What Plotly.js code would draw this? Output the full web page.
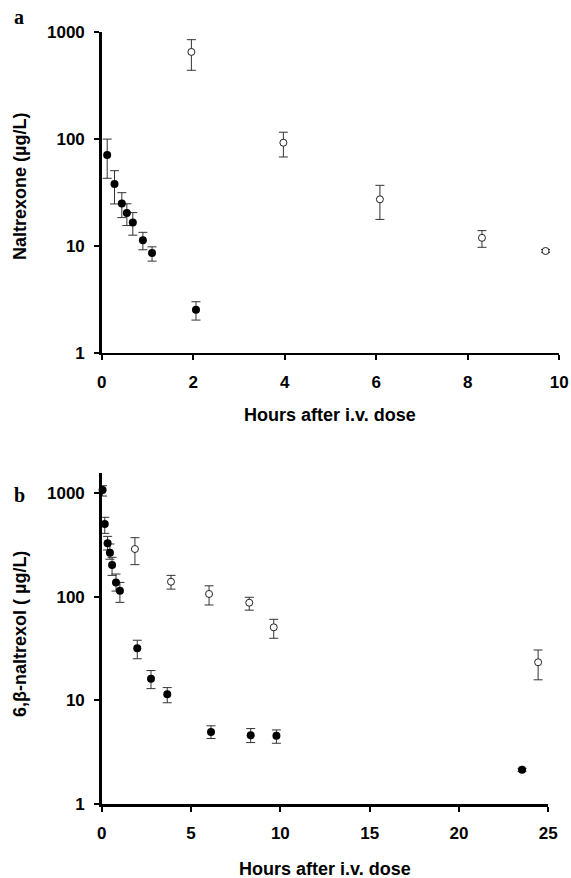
<!DOCTYPE html>
<html>
<head>
<meta charset="utf-8">
<script src="https://cdn.plot.ly/plotly-3.0.1.min.js"></script>
<style>html,body{margin:0;padding:0;background:#fff;}</style>
</head>
<body>
<div id="chart" style="width:571px;height:878px;"></div>
<script>
// Panel a: naltrexone, filled (i.v.) series
const aFilledTime = [0.12, 0.28, 0.44, 0.55, 0.68, 0.90, 1.10, 2.06];
const aFilledMean = [71, 38, 25, 20.3, 16.6, 11.3, 8.6, 2.53];
const aFilledHi   = [100, 50.6, 31.5, 24.8, 20.5, 13.4, 9.8, 3.0];
const aFilledLo   = [43, 24.7, 18.4, 15.5, 12.6, 9.2, 7.2, 2.02];
// Panel a: naltrexone, open series
const aOpenTime = [1.96, 3.97, 6.08, 8.31, 9.70];
const aOpenMean = [655, 92.5, 27.3, 11.9, 8.96];
const aOpenHi   = [853, 116, 36.9, 13.9, 9.25];
const aOpenLo   = [441, 68, 17.7, 9.7, 8.7];
// Panel b: 6,beta-naltrexol, filled series
const bFilledTime = [0.05, 0.17, 0.33, 0.46, 0.58, 0.80, 1.02, 1.99, 2.76, 3.67, 6.12, 8.34, 9.78, 23.53];
const bFilledMean = [1062, 500, 326, 265, 201, 137, 114, 31.8, 16.2, 11.5, 4.98, 4.63, 4.56, 2.15];
const bFilledHi   = [1168, 580, 380, 321, 239, 165, 137, 38, 19.4, 13.3, 5.7, 5.36, 5.2, 2.22];
const bFilledLo   = [929, 406, 281, 229, 160, 113, 88, 25.2, 13, 9.5, 4.3, 3.93, 3.87, 2.08];
// Panel b: 6,beta-naltrexol, open series
const bOpenTime = [1.86, 3.88, 6.01, 8.26, 9.63, 24.43];
const bOpenMean = [287, 139, 106, 87.3, 50.6, 23.3];
const bOpenHi   = [369, 160, 127, 98.5, 60.4, 30.6];
const bOpenLo   = [203, 118, 83, 74, 39.7, 15.8];

const xTicksA = [0, 2, 4, 6, 8, 10];
const xTicksB = [0, 5, 10, 15, 20, 25];
const yTicks = [1, 10, 100, 1000];
const yTickText = ['1', '10', '100', '1000'];

const FONT = 'Liberation Sans, Arial, sans-serif';

function errObj(mean, hi, lo) {
  return {
    type: 'data', symmetric: false,
    array: mean.map((m, i) => hi[i] - m),
    arrayminus: mean.map((m, i) => m - lo[i]),
    color: '#333', thickness: 1, width: 4.5
  };
}
function filled(x, y, hi, lo, xa, ya) {
  return {x: x, y: y, xaxis: xa, yaxis: ya, type: 'scatter', mode: 'markers', cliponaxis: false,
    marker: {symbol: 'circle', size: 8, color: '#000', line: {color: '#000', width: 0}},
    error_y: errObj(y, hi, lo)};
}
function open(x, y, hi, lo, xa, ya) {
  return {x: x, y: y, xaxis: xa, yaxis: ya, type: 'scatter', mode: 'markers', cliponaxis: false,
    marker: {symbol: 'circle', size: 7, color: '#fff', line: {color: '#222', width: 1}},
    error_y: errObj(y, hi, lo)};
}

const data = [
  filled(aFilledTime, aFilledMean, aFilledHi, aFilledLo, 'x', 'y'),
  open(aOpenTime, aOpenMean, aOpenHi, aOpenLo, 'x', 'y'),
  filled(bFilledTime, bFilledMean, bFilledHi, bFilledLo, 'x2', 'y2'),
  open(bOpenTime, bOpenMean, bOpenHi, bOpenLo, 'x2', 'y2')
];

const tickFont = {family: FONT, size: 17, color: '#000', weight: 700};
const axBase = {showline: true, linewidth: 2.5, linecolor: '#000', ticks: 'outside', ticklen: 5,
  tickwidth: 2, tickcolor: '#000', showgrid: false, zeroline: false, tickfont: tickFont, fixedrange: true};

const W = 571, H = 878;
const titleFont = {family: FONT, size: 18, weight: 700, color: '#000'};
const labelFont = {family: 'Liberation Serif, Times New Roman, serif', size: 20, weight: 700, color: '#000'};
function ann(text, px, py, font, angle) {
  return {text: text, xref: 'paper', yref: 'paper', x: px / W, y: 1 - py / H, showarrow: false,
    xanchor: 'center', yanchor: 'middle', textangle: angle || 0, font: font};
}
const layout = {
  width: W, height: H, margin: {l: 0, r: 0, t: 0, b: 0},
  paper_bgcolor: '#fff', plot_bgcolor: '#fff', showlegend: false,
  xaxis: Object.assign({}, axBase, {domain: [101.7 / W, 559.3 / W], range: [0, 10], anchor: 'y',
    tickvals: xTicksA, ticklabelstandoff: 7}),
  yaxis: Object.assign({}, axBase, {domain: [1 - 352.7 / H, 1 - 32.3 / H], type: 'log', range: [0, 3], anchor: 'x',
    tickvals: yTicks, ticktext: yTickText, ticklabelstandoff: 6}),
  xaxis2: Object.assign({}, axBase, {domain: [101.7 / W, 548.3 / W], range: [0, 25], anchor: 'y2',
    tickvals: xTicksB, ticklabelstandoff: 7}),
  yaxis2: Object.assign({}, axBase, {domain: [1 - 804.3 / H, 1 - 473 / H], type: 'log', range: [0, 3.19], anchor: 'x2',
    tickvals: yTicks, ticktext: yTickText, ticklabelstandoff: 6}),
  annotations: [
    ann('a', 19, 17, labelFont),
    ann('b', 19, 495, labelFont),
    ann('Hours after i.v. dose', 330, 415, titleFont),
    ann('Hours after i.v. dose', 325, 869, titleFont),
    ann('Naltrexone (µg/L)', 20, 187, titleFont, -90),
    ann('6,β-naltrexol ( µg/L)', 20, 634, titleFont, -90)
  ]
};

Plotly.newPlot('chart', data, layout, {displayModeBar: false, staticPlot: true});
</script>
</body>
</html>
